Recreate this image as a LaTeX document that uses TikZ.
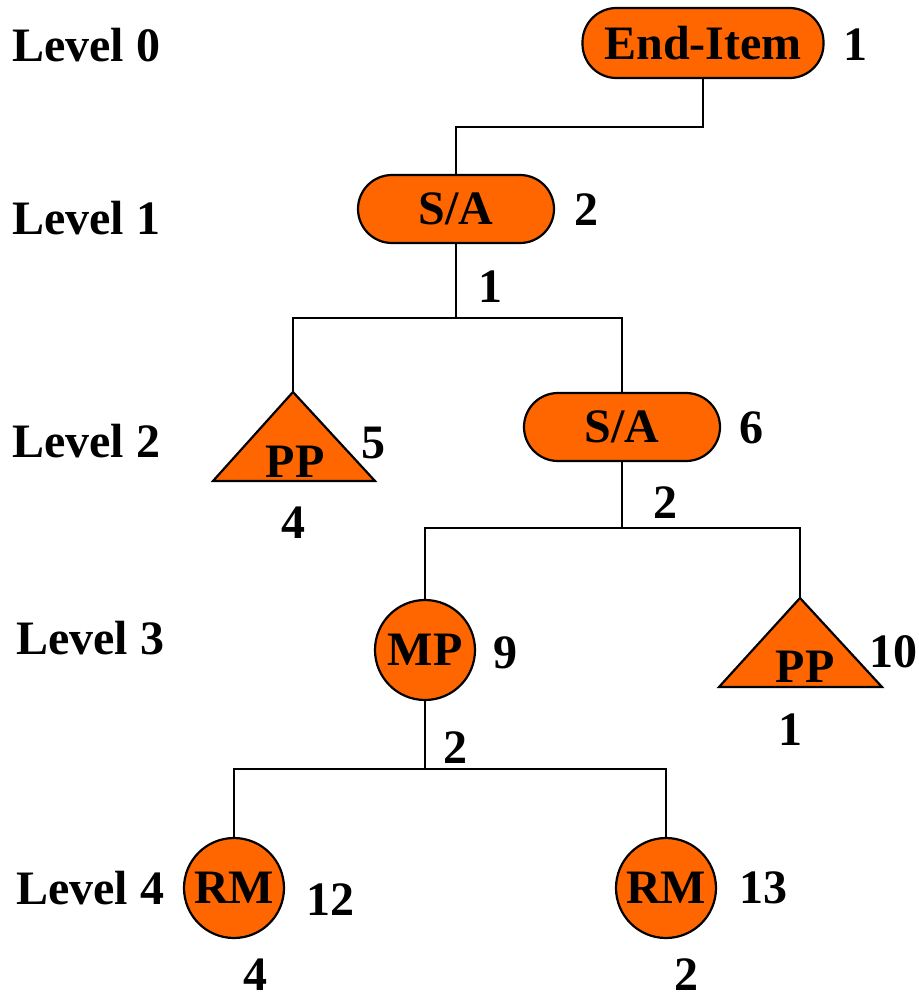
\documentclass[tikz,border=0pt]{standalone}
\usepackage{fontspec}
\setmainfont{Liberation Serif}
\definecolor{bomorange}{HTML}{FF6600}
\begin{document}
\begin{tikzpicture}[x=1pt,y=-1pt,
  every node/.style={font=\fontsize{48}{52}\selectfont\bfseries, inner sep=0pt},
  pill/.style={draw=black, line width=2.2pt, fill=bomorange, rounded corners=34pt,
     minimum width=196pt, minimum height=68pt},
  ball/.style={draw=black, line width=2.2pt, fill=bomorange, circle, minimum size=100pt},
  tri/.style={draw=black, line width=2.2pt, fill=bomorange, line join=miter},
  link/.style={draw=black, line width=2pt},
  lbl/.style={}]
\useasboundingbox (0,0) rectangle (919,997);
% level labels
\node[lbl] (L0) at (86,45) {Level 0};
\node[lbl] (L1) at (86,218) {Level 1};
\node[lbl] (L2) at (86,441) {Level 2};
\node[lbl] (L3) at (90,638) {Level 3};
\node[lbl] (L4) at (90,888) {Level 4};
% nodes
\node[pill, minimum width=241pt, minimum height=70pt] (end) at (703,43) {End-Item};
\node[lbl] (n1) at (855,45) {1};
\node[pill] (sa1) at (456,209) {S/A};
\node[lbl] (n2) at (586,210) {2};
\node[pill] (sa2) at (622,427) {S/A};
\node[lbl] (n6) at (751,428) {6};
% left PP triangle
\coordinate (pp1top) at (293,392);
\path[tri] (pp1top) -- (375,481) -- (213,481) -- cycle;
\node (pp1) at (295,462) {PP};
\node[lbl] (n5) at (373,443) {5};
\node[lbl] (n4a) at (293,523) {4};
% right PP triangle
\coordinate (pp2top) at (800,598);
\path[tri] (pp2top) -- (882,687) -- (719,687) -- cycle;
\node (pp2) at (805,667) {PP};
\node[lbl] (n10) at (893,652) {10};
\node[lbl] (n1b) at (790,730) {1};
% MP
\node[ball] (mp) at (425,650) {MP};
\node[lbl] (n9) at (505,653) {9};
% RMs
\node[ball] (rm1) at (234,888) {RM};
\node[lbl] (n12) at (330,900) {12};
\node[lbl] (n4b) at (255,975) {4};
\node[ball] (rm2) at (666,888) {RM};
\node[lbl] (n13) at (763,888) {13};
\node[lbl] (n2b) at (686,975) {2};
% quantity labels on branches
\node[lbl] (q1) at (490,287) {1};
\node[lbl] (q2) at (665,503) {2};
\node[lbl] (q3) at (455,748) {2};
% connectors
\draw[link] (end.south) -- ++(0,48) -| (sa1.north);
\draw[link] (sa1.south) -- ++(0,74) coordinate (b1);
\draw[link] (pp1top) |- (b1) -| (sa2.north);
\draw[link] (sa2.south) -- ++(0,66) coordinate (b2);
\draw[link] (mp.north) |- (b2) -| (pp2top);
\draw[link] (mp.south) -- ++(0,68) coordinate (b3);
\draw[link] (rm1.north) |- (b3) -| (rm2.north);
\end{tikzpicture}
\end{document}
